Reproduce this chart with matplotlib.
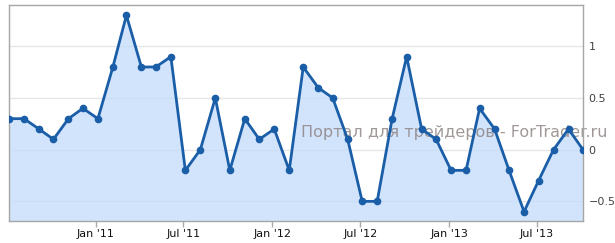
import pandas as pd
import matplotlib.pyplot as plt

# monthly values, Jul 2010 .. Oct 2013
months = pd.date_range('2010-07-01', '2013-10-01', freq='MS') + pd.Timedelta(days=4)
values = [0.3, 0.3, 0.2, 0.1, 0.3, 0.4,
          0.3, 0.8, 1.3, 0.8, 0.8, 0.9, -0.2, 0.0, 0.5, -0.2, 0.3, 0.1,
          0.2, -0.2, 0.8, 0.6, 0.5, 0.1, -0.5, -0.5, 0.3, 0.9, 0.2, 0.1,
          -0.2, -0.2, 0.4, 0.2, -0.2, -0.6, -0.3, 0.0, 0.2, 0.0]
tick_dates = pd.to_datetime(['2011-01-01', '2011-07-01', '2012-01-01',
                             '2012-07-01', '2013-01-01', '2013-07-01'])
tick_labels = ["Jan '11", "Jul '11", "Jan '12", "Jul '12", "Jan '13", "Jul '13"]
y_ticks = [-0.5, 0, 0.5, 1]
y_labels = ['\u22120.5', '0', '0.5', '1']

fig = plt.figure(figsize=(6.15, 2.43), dpi=100)
ax = fig.add_axes([9 / 615, 22 / 243, 574 / 615, 215.5 / 243])

ymin, ymax = -0.69, 1.395
line_col = '#1b5ea8'
ax.fill_between(months, values, ymin, color='#c4dcfb', alpha=0.75, lw=0, zorder=2)
ax.plot(months, values, color=line_col, lw=2, marker='o', ms=4.5, zorder=3)

ax.set_xlim(months[0], months[-1])
ax.set_ylim(ymin, ymax)

ax.set_xticks(tick_dates)
ax.set_xticklabels(tick_labels, fontsize=8, color='#111111')
ax.tick_params(axis='x', length=4, width=1, color='#aaaaaa', pad=2)

ax.yaxis.tick_right()
ax.set_yticks(y_ticks)
ax.set_yticklabels(y_labels, fontsize=8, color='#444444')
ax.tick_params(axis='y', length=0, pad=4)

ax.grid(axis='y', color='#e6e6e6', lw=1, zorder=1)
ax.set_axisbelow(True)
for s in ax.spines.values():
    s.set_color('#a6a6a6')
    s.set_linewidth(1)

# watermark
ax.text(0.775, 0.41, 'Портал для трейдеров - ForTrader.ru', transform=ax.transAxes,
        ha='center', va='center', fontsize=11.5, color='#8a7f7f', alpha=0.8,
        family='DejaVu Sans', zorder=2.5)

fig.savefig('out.png', dpi=100)
